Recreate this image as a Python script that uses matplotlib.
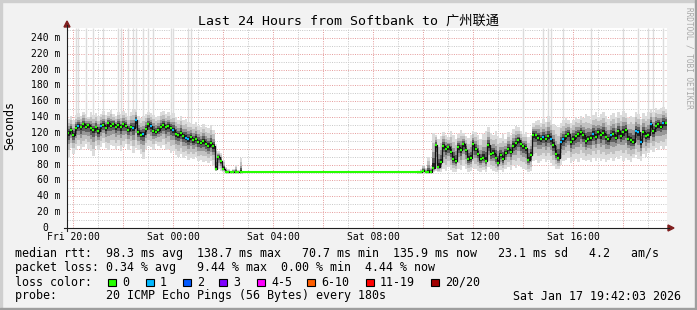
import matplotlib
matplotlib.use("Agg")
import matplotlib.pyplot as plt
from matplotlib.lines import Line2D
from matplotlib.patches import Rectangle, Polygon
import numpy as np

# samples are 6 minutes wide, time in hours relative to Fri 20:00
STEP = 0.1
left_start = -0.24
right_start = 13.76
flat_span = (6.76, 13.76)
flat_rtt = 70.7

med_left = [120, 124, 118, 126, 129, 127, 131, 128, 130, 126,
            124, 127, 122, 129, 130, 126, 132, 129, 131, 128,
            130, 127, 131, 129, 124, 128, 126, 136, 121, 118,
            119, 125, 131, 129, 123, 121, 124, 128, 130, 127,
            129, 126, 124, 119, 117, 120, 116, 114, 112, 115,
            111, 113, 109, 107, 110, 106, 104, 107, 103, 74,
            90, 84, 75, 71, 70.7, 70.7, 70.7, 70.7, 70.7, 70.7]
hi_left = [138, 141, 136, 143, 145, 142, 147, 144, 140, 146,
           143, 145, 141, 144, 148, 143, 146, 149, 144, 142,
           147, 144, 148, 145, 141, 146, 149, 150, 142, 139,
           141, 144, 147, 145, 143, 140, 142, 146, 148, 144,
           146, 143, 145, 140, 137, 141, 136, 138, 134, 133,
           131, 134, 129, 127, 131, 128, 126, 130, 124, 106,
           97, 95, 86, 77, 74, 72, 75, 80, 73, 88]
lo_left = [90, 101, 94, 99, 104, 98, 102, 106, 100, 97,
           91, 104, 99, 102, 107, 101, 98, 105, 103, 100,
           104, 97, 102, 106, 99, 103, 95, 101, 98, 93,
           87, 100, 104, 102, 99, 106, 103, 101, 105, 98,
           100, 95, 97, 92, 90, 94, 88, 91, 86, 89,
           87, 90, 84, 86, 83, 85, 82, 84, 80, 72,
           74, 72, 70.7, 70.7, 70.7, 70.7, 70.7, 70.7, 70.7, 70.7]
loss1_left = [4, 13, 26, 27, 30, 33, 42, 47, 48]
spikes_left = [3, 4, 7, 10, 14, 20, 21, 24, 26, 27, 30, 32, 34, 41, 42, 48, 49]

med_right = [70.7, 70.7, 72, 70.7, 71, 70.7, 76, 105, 77, 83,
             104, 100, 102, 96, 87, 84, 102, 98, 106, 99,
             87, 88, 106, 100, 94, 87, 89, 85, 105, 93,
             95, 89, 82, 92, 87, 95, 100, 96, 104, 107,
             111, 106, 103, 101, 86, 92, 118, 117, 114, 112,
             115, 112, 116, 113, 105, 94, 89, 108, 112, 116,
             119, 108, 113, 116, 119, 121, 117, 110, 113, 114,
             119, 115, 121, 117, 120, 115, 112, 117, 119, 114,
             122, 116, 121, 124, 113, 111, 109, 122, 121, 108,
             121, 116, 117, 131, 122, 129, 131, 128, 133, 132]
hi_right = [72, 74, 80, 76, 90, 78, 120, 118, 112, 116,
            121, 118, 115, 122, 117, 113, 119, 124, 120, 116,
            114, 118, 123, 121, 117, 112, 119, 122, 127, 120,
            118, 122, 116, 114, 119, 113, 121, 117, 125, 129,
            127, 123, 119, 121, 115, 118, 132, 135, 137, 133,
            138, 134, 141, 136, 131, 129, 127, 133, 136, 139,
            137, 133, 136, 140, 138, 142, 139, 144, 141, 138,
            143, 146, 140, 144, 147, 141, 138, 143, 145, 140,
            146, 143, 148, 145, 139, 142, 140, 147, 144, 138,
            145, 142, 146, 150, 147, 152, 149, 151, 153, 150]
lo_right = [70.7, 70.7, 70.7, 70.7, 70.7, 70.7, 70.7, 72, 70.7, 71,
            74, 72, 77, 73, 71, 70.7, 75, 73, 78, 74,
            71, 72, 76, 74, 72, 70.7, 73, 71, 77, 74,
            72, 70.7, 70.7, 73, 71, 74, 77, 73, 79, 76,
            80, 77, 75, 73, 70.7, 72, 84, 86, 82, 85,
            87, 83, 86, 82, 78, 75, 74, 80, 84, 86,
            88, 82, 85, 87, 83, 89, 86, 84, 86, 83,
            88, 85, 89, 84, 87, 83, 86, 88, 84, 90,
            87, 91, 85, 89, 86, 83, 88, 92, 87, 85,
            93, 90, 95, 98, 96, 101, 99, 103, 100, 104]
loss1_right = [50, 53, 57, 58, 70, 77, 87, 88, 89, 93, 98]
spikes_right = [42, 50, 52, 53, 58, 69, 82, 88, 92, 94, 98]

x_tick_labels = ["Fri 20:00", "Sat 00:00", "Sat 04:00", "Sat 08:00", "Sat 12:00", "Sat 16:00"]
y_ticks = list(range(0, 241, 20))

loss_labels = ["0", "1", "2", "3", "4-5", "6-10", "11-19", "20/20"]
loss_colors = ["#26ff00", "#00b8ff", "#0059ff", "#7e00ff", "#ff00ff", "#ff5e00", "#ff0000", "#a10000"]

W, H = 697, 310
YMAX = 252.6
MONO = "DejaVu Sans Mono"


def fx(x):
    return x / W


def fy(y):
    return 1 - y / H


fig = plt.figure(figsize=(W / 100, H / 100), dpi=100)
fig.patch.set_facecolor("#f2f2f2")

ax = fig.add_axes([fx(67), fy(228), 600 / W, 200 / H])
ax.set_xlim(left_start, left_start + 24)
ax.set_ylim(0, YMAX)
ax.set_facecolor("white")
ax.set_xticks([])
ax.set_yticks([])
for s in ax.spines.values():
    s.set_visible(False)

# grid (dotted, minor gray / major red)
dots = (0, (1, 1.3))
for v in range(10, 253, 10):
    c = "#e6a0a0" if v % 20 == 0 else "#cacaca"
    ax.axhline(v, color=c, lw=0.72, ls=dots, zorder=1)
for h in range(0, 24):
    c = "#e6a0a0" if h % 2 == 0 else "#cacaca"
    ax.axvline(h, color=c, lw=0.72, ls=dots, zorder=1)

# smoke layers: lightest at the extremes, darker toward the median
layer_frac = [1.0, 0.72, 0.46, 0.28, 0.13]
layer_col = ["#dcdcdc", "#c0c0c0", "#979797", "#5f5f5f", "#232323"]


def draw_section(start, med, lo, hi, loss1, spikes):
    med, lo, hi = np.array(med, float), np.array(lo, float), np.array(hi, float)
    n = len(med)
    edges = start + STEP * np.arange(n + 1)
    for f, c in zip(layer_frac, layer_col):
        up = med + (hi - med) * f
        dn = med - (med - lo) * f
        ax.fill_between(edges, np.append(dn, dn[-1]), np.append(up, up[-1]),
                        step="post", color=c, lw=0, zorder=2)
    centers = edges[:-1] + STEP / 2
    ax.vlines(centers[spikes], hi[spikes], YMAX, color="#dcdcdc", lw=1.0, zorder=2)
    ax.step(edges, np.append(med, med[-1]), where="post", color="#111111", lw=0.9, zorder=3)
    cols = [loss_colors[1] if i in loss1 else loss_colors[0] for i in range(n)]
    ax.hlines(med, centers - STEP * 0.32, centers + STEP * 0.32, colors=cols, lw=1.6, zorder=4)


draw_section(left_start, med_left, lo_left, hi_left, loss1_left, spikes_left)
draw_section(right_start, med_right, lo_right, hi_right, loss1_right, spikes_right)
ax.hlines(flat_rtt, flat_span[0] - STEP, flat_span[1] + STEP, colors=loss_colors[0], lw=1.5, zorder=4)

# axes lines and arrows
fig.add_artist(Line2D([fx(64), fx(669)], [fy(228), fy(228)], color="#1f1f1f", lw=0.8))
fig.add_artist(Line2D([fx(67), fx(67)], [fy(231), fy(25)], color="#1f1f1f", lw=0.8))
fig.add_artist(Polygon([(fx(64), fy(27)), (fx(70), fy(27)), (fx(67), fy(21))],
                       closed=True, color="#801f1f", transform=fig.transFigure))
fig.add_artist(Polygon([(fx(668), fy(225)), (fx(668), fy(231)), (fx(674), fy(228))],
                       closed=True, color="#801f1f", transform=fig.transFigure))

# tick labels
for k, lab in enumerate(x_tick_labels):
    fig.text(fx(73 + 100 * k), fy(236.5), lab, ha="center", va="center",
             family=MONO, fontsize=7)
for v in y_ticks:
    yy = 228 - v * 200 / YMAX
    if v == 0:
        fig.text(fx(60 - 2 * 5.85), fy(yy), "0", ha="right", va="center", family=MONO, fontsize=7)
    else:
        fig.text(fx(60), fy(yy), f"{v} m", ha="right", va="center", family=MONO, fontsize=7)

# titles
fig.text(fx(349), fy(21.5), "Last 24 Hours from Softbank to 广州联通", ha="center", va="center",
         family=[MONO, "Noto Sans CJK SC"], fontsize=9.5)
fig.text(fx(10), fy(125), "Seconds", rotation=90, ha="center", va="center", family=MONO, fontsize=8.4)
fig.text(fx(689), fy(58), "RRDTOOL / TOBI OETIKER", rotation=-90, ha="center", va="center",
         family=MONO, fontsize=5.6, color="#a8a8a8")

# legend
lg = dict(family=MONO, fontsize=8.4, va="center", ha="left")
fig.text(fx(15), fy(254), "median rtt:  98.3 ms avg  138.7 ms max   70.7 ms min  135.9 ms now   23.1 ms sd   4.2   am/s", **lg)
fig.text(fx(15), fy(268), "packet loss: 0.34 % avg   9.44 % max  0.00 % min  4.44 % now", **lg)
fig.text(fx(15), fy(282), "loss color:", **lg)
box_x = [108, 146, 183, 219, 257, 307, 366, 431]
for bx, lab, c in zip(box_x, loss_labels, loss_colors):
    fig.add_artist(Rectangle((fx(bx), fy(286)), 7.5 / W, 7.5 / H, facecolor=c, edgecolor="black",
                             lw=0.8, transform=fig.transFigure))
    fig.text(fx(bx + 14), fy(282), lab, **lg)
fig.text(fx(15), fy(296), "probe:       20 ICMP Echo Pings (56 Bytes) every 180s", **lg)
fig.text(fx(681), fy(296), "Sat Jan 17 19:42:03 2026", family=MONO, fontsize=8.4, va="center", ha="right")

# 3d frame
fig.add_artist(Rectangle((0, 1 - 2 / H), 1, 2 / H, color="#cfcfcf", transform=fig.transFigure))
fig.add_artist(Rectangle((0, 0), 2 / W, 1, color="#cfcfcf", transform=fig.transFigure))
fig.add_artist(Rectangle((0, 0), 1, 2 / H, color="#9e9e9e", transform=fig.transFigure))
fig.add_artist(Rectangle((1 - 2 / W, 0), 2 / W, 1, color="#9e9e9e", transform=fig.transFigure))

fig.savefig("out.png", dpi=100, facecolor=fig.get_facecolor())
